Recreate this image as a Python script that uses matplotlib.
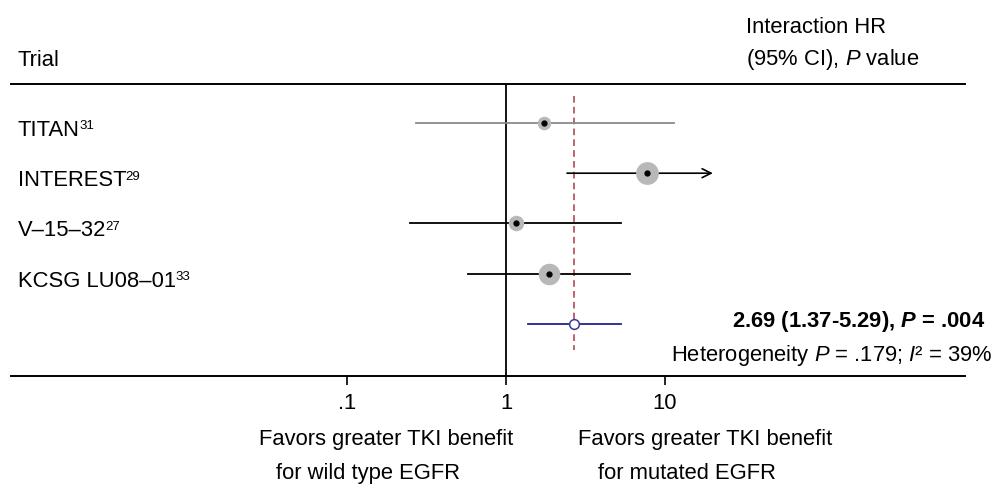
import numpy as np
import matplotlib
matplotlib.use("Agg")
import matplotlib.pyplot as plt

# =========================
# Data
# =========================
trials = ["TITAN", "INTEREST", "V\u201315\u201332", "KCSG LU08\u201301"]
refs = ["31", "29", "27", "33"]
hr = [1.73, 7.7, 1.16, 1.86]
ci_low = [0.27, 2.42, 0.25, 0.58]
ci_high = [11.4, 25.0, 5.29, 6.0]
weights = [13, 37, 17, 33]

pooled_hr = 2.69
pooled_low = 1.37
pooled_high = 5.29
pooled_p = ".004"
het_p = ".179"
het_i2 = "39%"

tick_values = [0.1, 1, 10]
tick_labels = [".1", "1", "10"]
arrow_cap = 20

# =========================
# Style
# =========================
plt.rcParams["font.family"] = ["Liberation Sans", "DejaVu Sans"]
plt.rcParams["mathtext.fontset"] = "custom"
plt.rcParams["mathtext.rm"] = "Liberation Sans"
plt.rcParams["mathtext.it"] = "Liberation Sans:italic"
plt.rcParams["mathtext.bf"] = "Liberation Sans:bold"
plt.rcParams["mathtext.bfit"] = "Liberation Sans:italic:bold"

FS = 15.8
W, H = 1000, 490


def fx(px):
    return px / W


def fy(py):
    return 1 - py / H


fig = plt.figure(figsize=(10, 4.9), dpi=100)
ax = fig.add_axes([fx(11), fy(376), fx(965) - fx(11), fy(84) - fy(376)])

# x: 1 at pixel 506, 159 px per decade
ax.set_xscale("log")
ax.set_xlim(10 ** ((11 - 506) / 159), 10 ** ((965 - 506) / 159))
ax.set_ylim(6.04, 0.223)

for s in ["left", "right"]:
    ax.spines[s].set_visible(False)
for s in ["top", "bottom"]:
    ax.spines[s].set_linewidth(1.4)

ax.set_yticks([])
ax.set_xticks(tick_values)
ax.set_xticklabels(tick_labels)
ax.xaxis.set_minor_locator(matplotlib.ticker.NullLocator())
ax.tick_params(axis="x", length=6.5, width=1.2, pad=5.5, labelsize=FS)

# null line and pooled line
ax.axvline(1, color="black", lw=1.3)
ax.plot([pooled_hr, pooled_hr], [0.46, 5.52], color="#b04a55", lw=1.2,
        ls=(0, (4, 2.5)))

# =========================
# Trials
# =========================
rows = np.arange(1, len(trials) + 1)
for i, y in enumerate(rows):
    col = "#8a8a8a" if i == 0 else "black"
    hi = min(ci_high[i], arrow_cap)
    if ci_high[i] > arrow_cap:
        ax.annotate("", xy=(hi, y), xytext=(ci_low[i], y),
                    arrowprops=dict(arrowstyle="->", color=col, lw=1.2,
                                    shrinkA=0, shrinkB=0, mutation_scale=16))
    else:
        ax.plot([ci_low[i], hi], [y, y], color=col, lw=1.3)
    ax.plot(hr[i], y, "o", ms=2.7 * np.sqrt(weights[i]), color="#b8b8b8",
            mec="none", zorder=3)
    ax.plot(hr[i], y, "o", ms=3.5, color="black", zorder=4)

    # trial name with reference number as superscript
    t = fig.text(fx(18), fy(123 + 13 + 50.2 * i), trials[i], fontsize=FS,
                 va="baseline", ha="left")
    ax.annotate(refs[i], xy=(1, 0), xycoords=t, xytext=(-0.6, 8.4),
                textcoords="offset points", fontsize=9.5, va="baseline",
                ha="left", annotation_clip=False)

# pooled estimate
yp = len(trials) + 1
ax.plot([pooled_low, pooled_high], [yp, yp], color="#22228a", lw=1.3)
ax.plot(pooled_hr, yp, "o", ms=7, mfc="white", mec="#3a3a9a", mew=1.1,
        zorder=4)

# =========================
# Texts
# =========================
fig.text(fx(18), fy(66), "Trial", fontsize=FS, va="baseline")
fig.text(fx(746), fy(33), "Interaction HR", fontsize=FS, va="baseline")
fig.text(fx(746), fy(65), "(95% CI), $P$ value", fontsize=FS, va="baseline")

fig.text(fx(985), fy(327),
         f"{pooled_hr:.2f} ({pooled_low:.2f}-{pooled_high:.2f}), "
         r"$\mathbfit{P}$ = " + pooled_p,
         fontsize=FS, fontweight="bold", ha="right", va="baseline")
fig.text(fx(993), fy(361),
         f"Heterogeneity $P$ = {het_p}; $I$\u00b2 = {het_i2}",
         fontsize=FS, ha="right", va="baseline")

fig.text(fx(259), fy(445), "Favors greater TKI benefit", fontsize=FS,
         va="baseline")
fig.text(fx(276), fy(479), "for wild type EGFR", fontsize=FS, va="baseline")
fig.text(fx(578), fy(445), "Favors greater TKI benefit", fontsize=FS,
         va="baseline")
fig.text(fx(598), fy(479), "for mutated EGFR", fontsize=FS, va="baseline")

fig.savefig("out.png", dpi=100)
